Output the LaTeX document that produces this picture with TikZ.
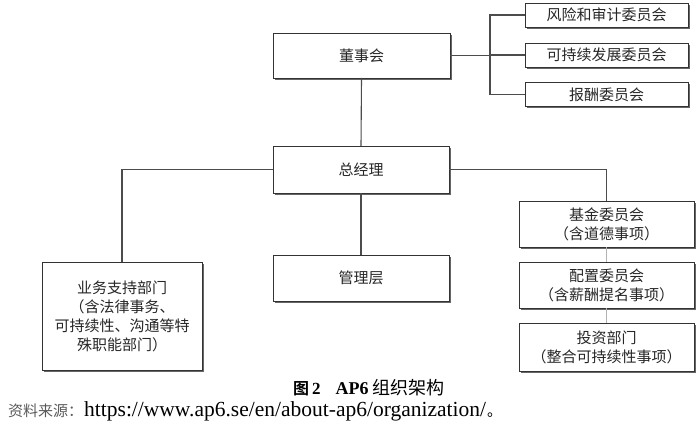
\documentclass[tikz,border=0pt]{standalone}
\usepackage{fontspec}
\setmainfont{Liberation Serif}
\newfontfamily\cjk{Noto Sans CJK SC}[BoldFont={Noto Sans CJK SC Bold}]
\usetikzlibrary{shadows}
\begin{document}
\begin{tikzpicture}[x=1pt,y=-1pt,
  box/.style={draw=black!80, line width=0.8pt, fill=white, inner sep=0pt, outer sep=0pt,
    align=center, font=\cjk\fontsize{15}{19}\selectfont, text=black!85,
    general shadow={shadow xshift=1.6pt, shadow yshift=-1.6pt, fill=black!60}},
  conn/.style={draw=black!70, line width=1.1pt},
  light/.style={draw=black!30, line width=0.8pt}]
\useasboundingbox (0,0) rectangle (700,438);
% board and committees
\node[box, minimum width=177pt, minimum height=45pt] (board) at (361.5,55.5) {董事会};
\node[box, minimum width=163pt, minimum height=24pt] (c1) at (606.5,15) {风险和审计委员会};
\node[box, minimum width=163pt, minimum height=24pt] (c2) at (606.5,55) {可持续发展委员会};
\node[box, minimum width=163pt, minimum height=24pt] (c3) at (606.5,94.5) {报酬委员会};
% general manager level
\node[box, minimum width=176pt, minimum height=47pt] (gm) at (361,169.5) {总经理};
\node[box, minimum width=176pt, minimum height=46pt] (mgmt) at (361,278) {管理层};
\node[box, minimum width=160pt, minimum height=108pt] (biz) at (122,316) {业务支持部门\\（含法律事务、\\可持续性、沟通等特\\殊职能部门）};
\node[box, minimum width=175pt, minimum height=46pt] (fund) at (606.5,224) {基金委员会\\（含道德事项）};
\node[box, minimum width=175pt, minimum height=46pt] (alloc) at (606.5,285) {配置委员会\\（含薪酬提名事项）};
\node[box, minimum width=175pt, minimum height=48pt] (inv) at (606.5,347) {投资部门\\（整合可持续性事项）};
% connectors
\coordinate (bus) at (490,55.5);
\draw[conn] (board.east) -- (bus);
\draw[conn] (bus) |- (c1.west);
\draw[conn] (bus) |- (c2.west);
\draw[conn] (bus) |- (c3.west);
\draw[conn] (board.south) -- (gm.north);
\draw[conn] (gm.west) -| (biz.north);
\draw[conn] (gm.east) -| (fund.north);
\draw[conn] (gm.south) -- (mgmt.north);
\draw[light] (fund.south) -- (alloc.north);
\draw[light] (alloc.south) -- (inv.north);
% caption and source
\node[anchor=base west, inner sep=0pt] (cap) at (293,394.5)
  {{\cjk\bfseries\fontsize{16}{16}\selectfont 图}\hspace{3pt}{\bfseries\fontsize{17}{17}\selectfont 2}\hspace{15pt}{\bfseries\fontsize{18}{18}\selectfont AP6}\hspace{4pt}{\cjk\fontsize{18}{18}\selectfont 组织架构}};
\node[anchor=base west, inner sep=0pt] (src) at (8,416)
  {{\cjk\fontsize{15}{15}\selectfont\color{black!65}资料来源：}\hspace{1pt}{\fontsize{21.5}{21.5}\selectfont https://www.ap6.se/en/about-ap6/organization/}\hspace{1pt}{\cjk\fontsize{15}{15}\selectfont 。}};
\end{tikzpicture}
\end{document}
